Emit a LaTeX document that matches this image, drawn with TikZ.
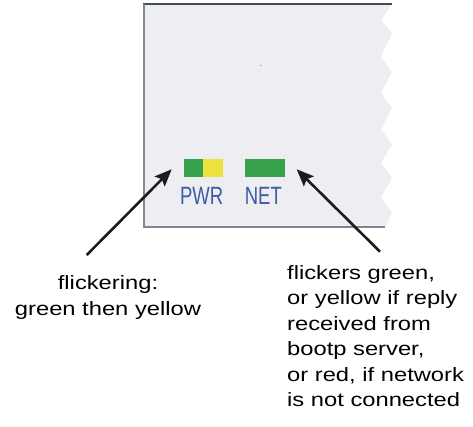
\documentclass[tikz,border=0pt]{standalone}
\usepackage{fontspec}
\setmainfont{Liberation Sans}
\newfontfamily\notefont[FakeStretch=1.23]{Liberation Sans}
\newfontfamily\ledfont[FakeStretch=0.74]{Liberation Sans}
\usetikzlibrary{arrows.meta}
\definecolor{panelfill}{HTML}{EEEDF2}
\definecolor{edgetop}{HTML}{3F4D52}
\definecolor{edgeside}{HTML}{7D8890}
\definecolor{ledgreen}{HTML}{36A04A}
\definecolor{ledyellow}{HTML}{ECE23F}
\definecolor{ledtext}{HTML}{3A5CA6}
\definecolor{ink}{HTML}{1C1C1C}
\tikzset{
  led/.style={draw=none, inner sep=0, minimum height=18pt, anchor=north west},
  ledlabel/.style={inner sep=0, anchor=base, text=ledtext,
    font=\ledfont\fontsize{25}{30}\selectfont},
  note/.style={inner sep=0, text=black,
    font=\notefont\fontsize{19.3}{25.5}\selectfont},
  pointer/.style={draw=ink, line width=2.6pt,
    -{Stealth[length=17pt,width=14pt,inset=3pt]}},
}
\begin{document}
\begin{tikzpicture}[x=1pt,y=-1pt]
\useasboundingbox (0,0) rectangle (473,427);

% front panel with torn right edge
\fill[panelfill] (144,4) -- (391.7,4) -- (381,20) -- (392,33) -- (381,57)
  -- (392,72) -- (381,93) -- (392,108) -- (381,129) -- (392,145)
  -- (381,163) -- (392,178) -- (381,197) -- (392,213) -- (385,227)
  -- (144,227) -- cycle;
\draw[edgetop, line width=2pt] (143,4) -- (391.7,4);
\draw[edgeside, line width=2pt] (144,4) -- (144,227) -- (385,227);
\fill[gray] (260.7,65.3) circle (0.6);

% status LEDs
\node[led, fill=ledgreen, minimum width=19pt] (pwrg) at (184,159) {};
\node[led, fill=ledyellow, minimum width=20pt] (pwry) at (203,159) {};
\node[led, fill=ledgreen, minimum width=40pt] (netled) at (245,159) {};
\node[ledlabel] (pwrlabel) at (201.6,205) {PWR};
\node[ledlabel] (netlabel) at (263.3,205) {NET};

% callouts (base anchor sits on the last line)
\node[note, anchor=base, align=center] (pwrnote) at (108,315)
  {flickering:\\green then yellow};
\node[note, anchor=base west, align=left] (netnote) at (287,406.7)
  {flickers green,\\or yellow if reply\\received from\\bootp server,\\or red, if network\\is not connected};

\coordinate (pwrtail) at (86.7,255);
\coordinate (pwrtip) at (171.7,169.3);
\coordinate (nettail) at (380,251.7);
\coordinate (nettip) at (296.7,169.3);
\draw[pointer] (pwrtail) -- (pwrtip);
\draw[pointer] (nettail) -- (nettip);
\end{tikzpicture}
\end{document}
